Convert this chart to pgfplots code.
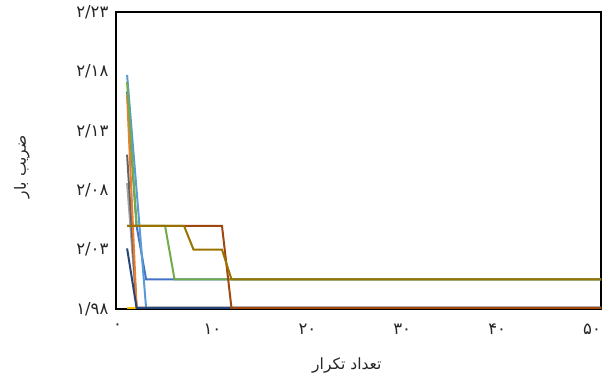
\documentclass[border=0pt]{standalone}
\usepackage{fontspec}
\usepackage{pgfplots}
\pgfplotsset{compat=1.18}
\TeXXeTstate=1
\newfontfamily\arabicfont[Script=Arabic]{DejaVu Sans}

\definecolor{sBlue}{HTML}{4472C4}
\definecolor{sOrange}{HTML}{ED7D31}
\definecolor{sGray}{HTML}{A5A5A5}
\definecolor{sGold}{HTML}{FFC000}
\definecolor{sLightBlue}{HTML}{5B9BD5}
\definecolor{sGreen}{HTML}{70AD47}
\definecolor{sDarkBlue}{HTML}{264478}
\definecolor{sBrown}{HTML}{9E480E}
\definecolor{sDarkGray}{HTML}{636363}
\definecolor{sOlive}{HTML}{997300}

\begin{document}
\begin{tikzpicture}[x=1pt,y=1pt]
% page frame
\path (0,0) rectangle (612,383);
\begin{axis}[
  at={(116pt,74pt)}, anchor=south west,
  width=485pt, height=297pt, scale only axis,
  xmin=-0.17, xmax=50.95,
  ymin=1.98, ymax=2.23,
  xtick={0,10,20,30,40,50},
  xticklabels={۰,۱۰,۲۰,۳۰,۴۰,۵۰},
  ytick={1.98,2.03,2.08,2.13,2.18,2.23},
  yticklabels={۱/۹۸,۲/۰۳,۲/۰۸,۲/۱۳,۲/۱۸,۲/۲۳},
  major tick length=0pt,
  tick style={draw=none},
  ticklabel style={font=\arabicfont\fontsize{16.5}{18}\selectfont, text=black!85},
  xticklabel style={yshift=-11pt},
  yticklabel style={xshift=-4pt},
  axis line style={black, line width=1.4pt},
  every axis plot/.append style={line width=2pt, mark=none},
  xlabel={\beginR تعداد تکرار\endR},
  ylabel={\beginR ضریب بار\endR},
  label style={font=\arabicfont\fontsize{15.5}{17}\selectfont, text=black!85},
  xlabel style={at={(axis description cs:0.476,-0.189)}, anchor=center},
  ylabel style={at={(axis description cs:-0.194,0.478)}, anchor=center},
]
\addplot[sGray] coordinates {(1,2.086) (2,1.981) (51,1.981)};
\addplot[sDarkGray] coordinates {(1,2.110) (2,1.981) (51,1.981)};
\addplot[sBlue] coordinates {(1,2.163) (2,2.050) (3,2.005) (51,2.005)};
\addplot[sOrange] coordinates {(1,2.160) (2,1.981) (51,1.981)};
\addplot[sGold] coordinates {(1,1.981) (51,1.981)};
\addplot[sLightBlue] coordinates {(1,2.177) (2,2.080) (3,1.981) (51,1.981)};
\addplot[sGreen] coordinates {(1,2.171) (2,2.050) (5,2.050) (6,2.005) (51,2.005)};
\addplot[sDarkBlue] coordinates {(1,2.031) (2,1.981) (51,1.981)};
\addplot[sBrown] coordinates {(1,2.050) (11,2.050) (12,1.981) (51,1.981)};
\addplot[sOlive] coordinates {(1,2.050) (7,2.050) (8,2.030) (11,2.030) (12,2.005) (51,2.005)};
\end{axis}
\end{tikzpicture}
\end{document}
